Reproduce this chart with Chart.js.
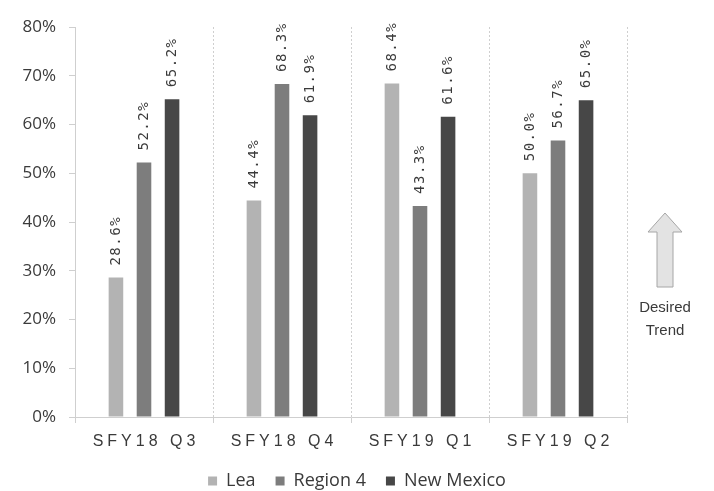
<!DOCTYPE html>
<html>
<head>
<meta charset="utf-8">
<script src="https://cdn.jsdelivr.net/npm/chart.js@4/dist/chart.umd.min.js"></script>
<style>
  html, body { margin: 0; padding: 0; background: #fff; }
  #wrap { width: 714px; height: 491px; }
</style>
</head>
<body>
<div id="wrap"><canvas id="c"></canvas></div>
<script>
const categories = ["SFY18 Q3", "SFY18 Q4", "SFY19 Q1", "SFY19 Q2"];
const lea = [28.6, 44.4, 68.4, 50.0];
const region4 = [52.2, 68.3, 43.3, 56.7];
const newMexico = [65.2, 61.9, 61.6, 65.0];
const yTicks = [0, 10, 20, 30, 40, 50, 60, 70, 80];

const textColor = "#3a3a3a";
const axisColor = "#cfcfcf";

// value labels above bars, rotated
const barLabels = {
  id: "barLabels",
  afterDatasetsDraw(chart) {
    const ctx = chart.ctx;
    ctx.save();
    ctx.font = "14px 'DejaVu Sans Mono'";
    ctx.letterSpacing = "1.5px";
    ctx.fillStyle = textColor;
    ctx.textAlign = "left";
    ctx.textBaseline = "middle";
    chart.data.datasets.forEach((ds, i) => {
      chart.getDatasetMeta(i).data.forEach((bar, j) => {
        ctx.save();
        ctx.translate(bar.x, bar.y - 12);
        ctx.rotate(-Math.PI / 2);
        ctx.fillText(ds.data[j].toFixed(1) + "%", 0, 0);
        ctx.restore();
      });
    });
    ctx.restore();
  }
};

// spaced-out category labels under the x axis
const spacedLabels = {
  id: "spacedLabels",
  afterDraw(chart) {
    const ctx = chart.ctx;
    const x = chart.scales.x;
    ctx.save();
    ctx.font = "16px 'Liberation Sans'";
    ctx.letterSpacing = "4px";
    ctx.fillStyle = textColor;
    ctx.textAlign = "center";
    ctx.textBaseline = "middle";
    categories.forEach((c, i) => {
      ctx.fillText(c, x.getPixelForValue(i) + 2, chart.chartArea.bottom + 25);
    });
    ctx.restore();
  }
};

// "Desired Trend" arrow at the right
const trendArrow = {
  id: "trendArrow",
  afterDraw(chart) {
    const ctx = chart.ctx;
    const cx = chart.chartArea.right + 38;
    const top = 213;
    ctx.save();
    ctx.beginPath();
    ctx.moveTo(cx, top);
    ctx.lineTo(cx + 17, top + 19);
    ctx.lineTo(cx + 8, top + 19);
    ctx.lineTo(cx + 8, top + 74);
    ctx.lineTo(cx - 8, top + 74);
    ctx.lineTo(cx - 8, top + 19);
    ctx.lineTo(cx - 17, top + 19);
    ctx.closePath();
    ctx.fillStyle = "#e3e3e3";
    ctx.fill();
    ctx.strokeStyle = "#a6a6a6";
    ctx.lineWidth = 1;
    ctx.stroke();
    ctx.font = "15px 'Liberation Sans'";
    ctx.fillStyle = textColor;
    ctx.textAlign = "center";
    ctx.textBaseline = "alphabetic";
    ctx.fillText("Desired", cx, top + 99);
    ctx.fillText("Trend", cx, top + 122);
    ctx.restore();
  }
};

new Chart(document.getElementById("c"), {
  type: "bar",
  data: {
    labels: categories,
    datasets: [
      { label: "Lea", data: lea, backgroundColor: "#b3b3b3" },
      { label: "Region 4", data: region4, backgroundColor: "#7d7d7d" },
      { label: "New Mexico", data: newMexico, backgroundColor: "#474747" }
    ]
  },
  options: {
    responsive: true,
    maintainAspectRatio: false,
    animation: false,
    layout: { padding: { left: 0, right: 0, top: 27, bottom: -9 } },
    datasets: { bar: { categoryPercentage: 0.61, barPercentage: 0.52 } },
    scales: {
      x: {
        grid: { display: true, offset: true, drawOnChartArea: true, color: axisColor, tickLength: 6 },
        border: { color: axisColor, dash: [2, 2] },
        ticks: { color: "rgba(0,0,0,0)", font: { size: 15 }, padding: 14 },
        afterFit(s) { s.height = 35; }
      },
      y: {
        min: 0,
        max: 80,
        afterBuildTicks(s) { s.ticks = yTicks.map(v => ({ value: v })); },
        grid: { drawOnChartArea: false, color: axisColor, tickLength: 6 },
        border: { color: axisColor, dash: [2, 2] },
        ticks: {
          color: textColor,
          font: { family: "'Open Sans'", size: 17 },
          padding: 13,
          callback: v => v + "%"
        },
        afterFit(s) { s.width = 75; }
      },
      // empty right-hand axis that keeps room for the trend arrow
      side: {
        type: "linear",
        position: "right",
        grid: { display: false },
        border: { display: false },
        ticks: { display: false },
        afterFit(s) { s.width = 87; }
      }
    },
    plugins: {
      legend: {
        position: "bottom",
        labels: {
          boxWidth: 9,
          boxHeight: 9,
          color: textColor,
          font: { family: "'Open Sans'", size: 18 },
          padding: 20
        }
      },
      tooltip: { enabled: false }
    }
  },
  plugins: [barLabels, spacedLabels, trendArrow]
});
</script>
</body>
</html>
